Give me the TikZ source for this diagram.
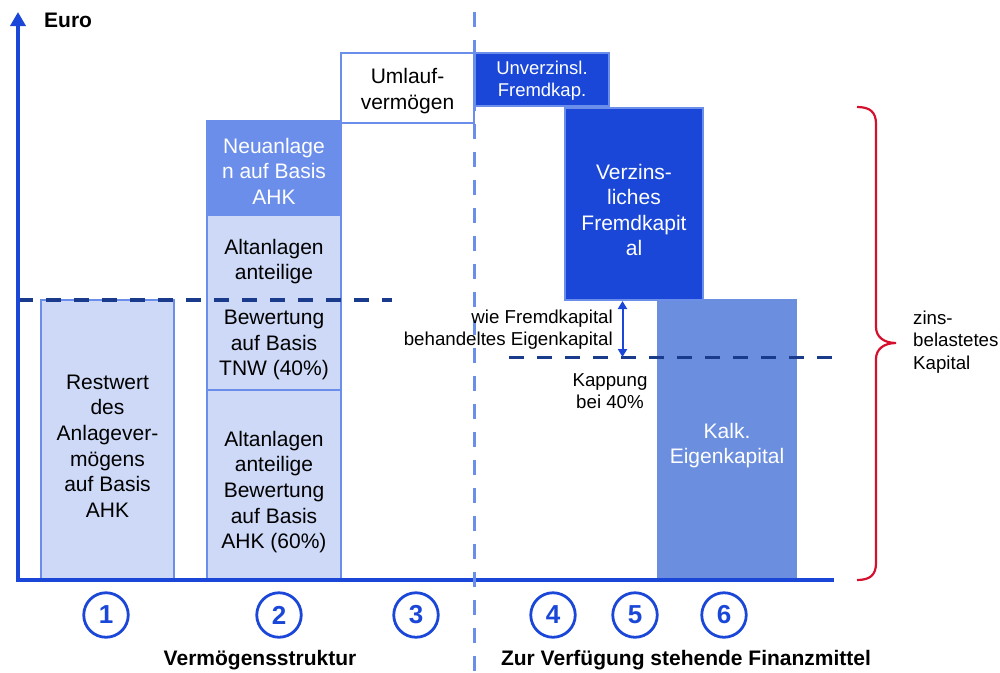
\documentclass[tikz,border=0pt]{standalone}
\usepackage{fontspec}
\setmainfont{Liberation Sans}
\usetikzlibrary{arrows.meta}
\definecolor{axisblue}{HTML}{1A47D8}
\definecolor{midblue}{HTML}{6B8EEA}
\definecolor{kalkblue}{HTML}{6B8EDE}
\definecolor{paleblue}{HTML}{CDD9F7}
\definecolor{navy}{HTML}{1A3A8C}
\definecolor{bracered}{HTML}{D4102E}
\newcommand{\fsz}[2]{\fontsize{#1}{#2}\selectfont}

\begin{document}
\begin{tikzpicture}[x=1pt,y=-1pt,
    bar/.style={draw=midblue,line width=1.5pt,inner sep=0pt},
    bartext/.style={inner sep=0pt,align=center,font=\fsz{21}{25.6}},
    small/.style={inner sep=0pt,font=\fsz{18.7}{22.5}},
    heading/.style={inner sep=0pt,font=\fsz{21}{24}\bfseries},
    numcirc/.style={circle,draw=axisblue,line width=2.8pt,minimum size=44.5pt,inner sep=0pt,text=axisblue,font=\fsz{26}{30}\bfseries},
    capline/.style={navy,line width=3.5pt,dash pattern=on 15pt off 13pt}]
\useasboundingbox (0,0) rectangle (1000,672);

% Vermoegensstruktur
\node[bar,fill=paleblue,minimum width=133pt,minimum height=280pt] (rest) at (107.5,440) {};
\node[bar,fill=paleblue,minimum width=134pt,minimum height=190pt] (altahk) at (274,485) {};
\node[bar,fill=paleblue,minimum width=134pt,minimum height=175pt] (alttnw) at (274,302.5) {};
\node[bar,fill=midblue,minimum width=134pt,minimum height=94pt] (neu) at (274,168) {};
\node[bar,fill=white,line width=2pt,minimum width=133pt,minimum height=70pt] (umlauf) at (407.5,88) {};
\node[bartext] (rest-t) at ([yshift=-6pt]rest.center) {Restwert\\des\\Anlagever-\\mögens\\auf Basis\\AHK};
\node[bartext] (altahk-t) at ([yshift=-7pt]altahk.center) {Altanlagen\\anteilige\\Bewertung\\auf Basis\\AHK (60\%)};
\node[bartext] (alttnw-t) at ([yshift=-7pt]alttnw.center) {Altanlagen\\anteilige\\[19.4pt]Bewertung\\auf Basis\\TNW (40\%)};
\node[bartext,text=white] (neu-t) at ([yshift=-3pt]neu.center) {Neuanlage\\n auf Basis\\AHK};
\node[bartext] (umlauf-t) at ([yshift=-3pt]umlauf.center) {Umlauf-\\vermögen};

% Finanzmittel
\node[bar,draw=none,fill=kalkblue,minimum width=140pt,minimum height=281pt] (kalk) at (727,439.5) {};
\node[bar,fill=axisblue,line width=2pt,minimum width=138pt,minimum height=192pt] (verz) at (634,204) {};
\node[bar,fill=axisblue,line width=2pt,minimum width=134.5pt,minimum height=53pt] (unverz) at (542,79.5) {};
\node[bartext,text=white] (kalk-t) at ([yshift=-6pt]kalk.center) {Kalk.\\Eigenkapital};
\node[bartext,text=white] (verz-t) at ([yshift=-6pt]verz.center) {Verzins-\\liches\\Fremdkapit\\al};
\node[bartext,text=white,font=\fsz{18.5}{21.5}] (unverz-t) at ([yshift=-1pt]unverz.center) {Unverzinsl.\\Fremdkap.};

\coordinate (dl) at (18,300);
\coordinate (dr) at (392,300);
\draw[capline] (dl) -- (dr);
\coordinate (kl) at (509,357.5);
\coordinate (kr) at (833,357.5);
\draw[capline] (kl) -- (kr);

\coordinate (o) at (18,580);
\coordinate (ytip) at (18,12);
\coordinate (xend) at (834,580);
\draw[axisblue,line width=3.5pt,-{Triangle[length=14pt,width=15pt]}] (o) -- (ytip);
\draw[axisblue,line width=3.5pt] (16.25,580) -- (xend);

\coordinate (divtop) at (474,12);
\coordinate (divbot) at (474,672);
\draw[midblue,line width=3pt,dash pattern=on 15pt off 13pt] (divtop) -- (divbot);

\coordinate (atop) at (622.5,301);
\coordinate (abot) at (622.5,357);
\draw[axisblue,line width=2pt,{Triangle[length=8pt,width=9pt]}-{Triangle[length=8pt,width=9pt]}] (atop) -- (abot);

\node[small,align=right,anchor=east] (wie) at (613,329.5) {wie Fremdkapital\\behandeltes Eigenkapital};
\node[small,align=center] (kapp) at (610,391) {Kappung\\bei 40\%};
\node[small,align=left,anchor=west] (zins) at (913,342) {zins-\\belastetes\\Kapital};

% Klammer
\coordinate (btop) at (857,107);
\coordinate (btip) at (896,343);
\coordinate (bbot) at (857,580);
\draw[bracered,line width=2.2pt] (btop) .. controls (870,107) and (876,112) .. (876,124) -- (876,327)
  .. controls (876,337) and (884,343) .. (btip) .. controls (884,343) and (876,349) .. (876,359)
  -- (876,563) .. controls (876,575) and (870,580) .. (bbot);

\foreach \n/\x in {1/106,2/279,3/416,4/553,5/635,6/724}
  \node[numcirc] (c\n) at (\x,615) {\n};

\node[heading,anchor=west] (euro) at (44,20) {Euro};
\node[heading] (verm) at (260,660) {Vermögensstruktur};
\node[heading] (fin) at (686,660) {Zur Verfügung stehende Finanzmittel};
\end{tikzpicture}
\end{document}
